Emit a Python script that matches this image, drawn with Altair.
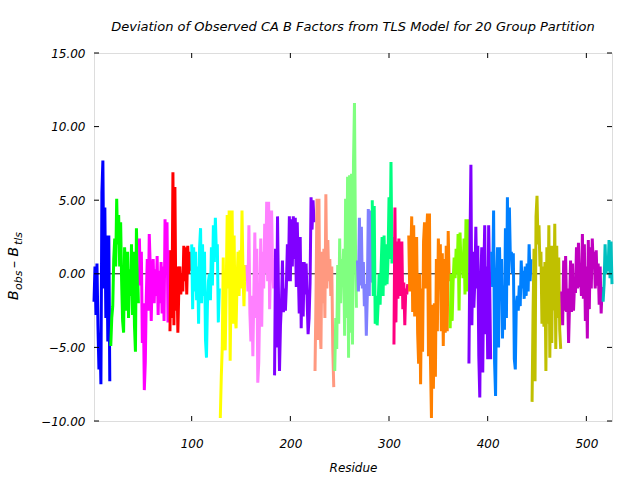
import altair as alt
import pandas as pd

# ---- data ----
group_start = [1, 18, 47, 78, 100, 129, 156, 184, 225, 245,
               268, 283, 305, 320, 362, 381, 404, 445, 475, 517]
group_color = ["#0000FF", "#00FF00", "#FF00FF", "#FF0000", "#00FFFF",
               "#FFFF00", "#FF80FF", "#8000FF", "#FF9980", "#80FF80",
               "#8080FF", "#00FF80", "#FF0080", "#FF8000", "#80FF00",
               "#8000FF", "#0080FF", "#C0C000", "#C000C0", "#00C0C0"]

g01 = [-1.9, 0.5, -2.8, 0.7, -3.5, -6.5, -4.0, -7.5, 5.5, 7.7, -1.0, 4.5, -3.0, 2.6, -4.6, 2.6, -7.3]
g02 = [-4.9, -3.0, -2.2, 1.0, 2.4, 0.5, 5.1, 2.0, 4.0, 0.5, 3.5, -0.5, -3.2, -4.0, 1.8, 0.0, -2.5, 1.5,
       -3.0, 0.3, -1.5, 2.0, -2.8, 1.5, -3.5, -5.3, 3.1, 0.5, -2.0]
g03 = [2.4, -0.8, 1.5, -4.7, -2.0, -7.9, -6.0, -1.5, 1.0, -2.5, 2.7, 0.5, -3.2, 0.0, 1.0, -2.0, 0.3,
       -1.5, 1.2, -2.8, 0.2, -2.0, 0.8, -2.7, 0.5, -3.2, 3.7, 0.0, 3.5, -3.3, 1.6]
g04 = [-3.9, 1.6, -3.0, 6.9, -3.5, 5.9, -2.5, 0.5, -4.0, -1.0, 0.5, -1.4, 0.0, -1.2, 1.9, -0.5, 1.8,
       -1.4, 1.9, 0.0, 1.5, 0.2]
g05 = [2.0, -2.4, 1.8, -1.2, 1.5, -1.8, 0.5, -3.4, 1.8, 3.1, -2.0, 2.0, -1.5, 1.5, -4.5, -5.7, -2.0,
       -0.5, 0.0, -1.8, 1.8, -0.8, 3.3, 0.8, 3.8, 1.5, 2.0, -3.3, -1.0]
g06 = [-9.8, -7.0, -5.0, 1.1, -4.5, -5.2, -1.0, 4.0, -1.0, 4.3, -5.9, -0.3, 4.3, -3.4, 2.6, -2.8,
       -3.7, -0.5, 1.5, -1.5, 1.6, -1.0, 4.3, 0.0, -2.2, 0.6, -0.5]
g07 = [0.6, -1.2, 3.3, -2.7, -4.6, -1.5, -5.6, -1.5, 2.8, -3.0, 1.7, -7.4, -6.0, -2.0, 2.4, -3.6, 1.5,
       -1.0, 3.4, 0.0, 4.9, -0.5, 4.9, -2.4, 1.0, 4.3, 0.5, -1.0]
g08 = [-6.9, 1.7, -5.0, 3.9, -1.5, -6.6, -3.5, -2.0, 0.9, -2.6, -1.0, -2.5, -0.8, 2.0, -0.5, 3.9, -0.5,
       3.7, 0.5, 3.9, 1.0, 3.8, -0.9, 3.5, 0.4, -2.7, 2.5, -3.7, 0.8, -2.9, 0.8, -1.4, 0.7, -1.8, -4.1,
       -3.0, -0.6, 5.2, 3.0, 5.0, 3.5]
g09 = [-6.6, -1.5, 5.1, -4.5, 5.1, -3.5, -5.1, 1.5, -2.0, 1.7, -3.0, 5.4, -1.0, 2.3, -0.5, 1.0, -1.5,
       0.5, -5.1, -7.7]
g10 = [-6.6, -3.0, -5.1, 0.6, -3.4, 2.4, -2.0, 1.0, -0.5, 1.7, -4.2, 5.1, -3.0, 6.6, -5.7, 6.7, -4.0,
       6.8, -4.8, 7.6, 11.6, 2.0, -2.3]
g11 = [0.9, -1.2, 3.8, -0.8, 3.2, -1.0, 0.8, -2.2, -0.7, -4.2, -1.5, 4.4, -1.5, 4.3, -0.6]
g12 = [5.0, -1.5, 4.6, -3.4, -1.5, -3.5, -2.0, 0.0, -2.1, 0.5, 2.5, -1.5, 2.6, -0.8, 2.0, -0.7, 1.0,
       5.2, 1.0, 7.6, 0.7, 2.5]
g13 = [-4.8, 4.5, -3.3, 2.2, -1.7, 2.4, -1.5, 1.0, 2.2, -2.4, -0.6, -3.5, -1.0, -1.4, -0.7]
g14 = [2.6, -1.2, 1.0, 3.9, -2.6, 3.3, -2.9, 1.5, 2.5, -4.0, -6.1, 0.0, -7.5, -1.0, -5.3, 2.2, 3.5,
       -1.0, 2.5, 4.1, -5.6, 4.1, -5.8, -9.8, -2.1, -7.8, -2.0, -7.0, 1.0, -3.9, 2.4, 0.1, 2.0, -3.9,
       1.4, -4.9, 1.0, -4.0, 1.9, -3.9, 2.9, -0.5]
g15 = [-3.7, 0.0, -3.2, -0.5, 1.1, -0.3, 1.7, 0.0, 2.7, -2.5, 2.8, 0.5, 0.8, -0.3, 2.4, -1.4, 3.7,
       -1.2, 3.7]
g16 = [-6.1, 1.7, 7.4, -3.5, 1.5, -2.3, -0.5, 3.2, -1.0, 1.9, -5.6, -8.4, -0.5, 1.8, -6.7, 0.0, 3.3,
       -4.1, 0.5, -5.8, 3.3, -0.5, -5.8]
g17 = [1.5, -0.9, 4.3, -6.0, -8.3, -0.8, 1.8, -5.0, 1.8, -1.8, 1.0, -4.4, -0.8, -3.8, 3.1, -3.0, 5.2,
       -0.8, 4.5, 1.0, 1.5, 0.0, 1.4, -5.8, -6.5, -2.2, -1.5, -2.5, -0.8, -2.2, 0.9, -1.0, 0.2, -1.7,
       0.5, -1.5, 0.7, -1.2, 2.0, -0.5, 1.0]
g18 = [-8.7, -2.5, 1.7, -7.3, 3.9, 5.3, 2.0, 3.3, 0.5, 1.5, -3.4, 0.5, -3.6, 0.8, -6.6, 1.8, -3.4, 3.3,
       -5.7, 1.9, -4.7, 1.9, -2.5, 3.4, -5.1, 1.9, -3.0, 1.1, -3.8, -5.1]
g19 = [-1.2, -3.5, 0.9, -2.5, 1.2, -2.6, -1.0, -4.7, -2.0, 0.9, -2.6, 0.7, -2.5, -0.8, -1.3, 1.8, -1.0,
       2.1, -0.9, 0.2, -1.5, 2.7, -1.7, 2.0, -3.2, 0.5, -4.4, 2.3, -2.4, 1.8, -1.0, 2.4, 0.6, 1.5, -1.0,
       1.6, -0.8, 0.7, -2.1, 0.5, -2.7, -0.9]
g20 = [-1.9, -0.7, 2.0, 0.0, 1.0, 0.2, 2.3, -0.3, 2.2, -0.7]

groups = [g01, g02, g03, g04, g05, g06, g07, g08, g09, g10,
          g11, g12, g13, g14, g15, g16, g17, g18, g19, g20]

y_ticks = [-10, -5, 0, 5, 10, 15]
x_ticks = [100, 200, 300, 400, 500]

# ---- build table ----
rows = []
for gi, (start, vals) in enumerate(zip(group_start, groups)):
    for i, v in enumerate(vals):
        rows.append({"residue": start + i, "dev": v, "group": f"g{gi + 1:02d}"})
df = pd.DataFrame(rows)
group_ids = [f"g{i + 1:02d}" for i in range(len(groups))]

W, H = 518, 368
FONT = "DejaVu Sans"

xscale = alt.Scale(domain=[1, 526], nice=False, zero=False)
yscale = alt.Scale(domain=[-10, 15], nice=False, zero=False)

xaxis = alt.Axis(values=x_ticks, format="d", ticks=False, domain=False, grid=False,
                 labelFont=FONT, labelFontStyle="italic", labelFontSize=12, labelColor="black",
                 labelPadding=17, title="Residue", titleFont=FONT, titleFontStyle="italic",
                 titleFontWeight="normal", titleFontSize=12, titleColor="black", titlePadding=13)
yaxis = alt.Axis(values=y_ticks, format=".2f", ticks=False, domain=False, grid=False,
                 labelFont=FONT, labelFontStyle="italic", labelFontSize=12, labelColor="black",
                 labelPadding=9, title=None)

zero = alt.Chart(pd.DataFrame({"y": [0]})).mark_rule(color="black", strokeWidth=1).encode(
    y=alt.Y("y:Q", scale=yscale, axis=yaxis))

lines = alt.Chart(df).mark_line(strokeWidth=3, strokeJoin="bevel").encode(
    x=alt.X("residue:Q", scale=xscale, axis=xaxis),
    y=alt.Y("dev:Q", scale=yscale, axis=yaxis),
    color=alt.Color("group:N", scale=alt.Scale(domain=group_ids, range=group_color), legend=None),
    detail="group:N",
    order="residue:Q",
)

ytk = pd.DataFrame({"v": y_ticks})
xtk = pd.DataFrame({"v": x_ticks})
tl = 5
ytick_l = alt.Chart(ytk).mark_rule(color="black").encode(
    y=alt.Y("v:Q", scale=yscale), x=alt.value(0), x2=alt.value(tl))
ytick_r = alt.Chart(ytk).mark_rule(color="black").encode(
    y=alt.Y("v:Q", scale=yscale), x=alt.value(W), x2=alt.value(W - tl))
xtick_b = alt.Chart(xtk).mark_rule(color="black").encode(
    x=alt.X("v:Q", scale=xscale), y=alt.value(H), y2=alt.value(H - tl))
xtick_t = alt.Chart(xtk).mark_rule(color="black").encode(
    x=alt.X("v:Q", scale=xscale), y=alt.value(0), y2=alt.value(tl))

# y-axis title with subscripts:  B_obs - B_tls
pieces = [("B", 14, -76, 247), ("obs", 11, -72, 237), ("\u2013 B", 14, -76, 215), ("tls", 11, -72, 192)]
ytitle_layers = []
for txt, fs, px, py in pieces:
    ytitle_layers.append(
        alt.Chart(pd.DataFrame({"t": [txt]})).mark_text(
            angle=270, align="left", baseline="alphabetic", font=FONT, fontStyle="italic",
            fontSize=fs, color="black").encode(text="t:N", x=alt.value(px), y=alt.value(py)))

chart = alt.layer(zero, lines, ytick_l, ytick_r, xtick_b, xtick_t, *ytitle_layers).properties(
    width=W, height=H,
    title=alt.TitleParams("Deviation of Observed CA B Factors from TLS Model for 20 Group Partition",
                          font=FONT, fontStyle="italic", fontWeight="normal", fontSize=13,
                          color="black", anchor="middle", offset=13),
    autosize=alt.AutoSizeParams(type="none"),
    padding={"left": 94, "top": 53, "right": 28, "bottom": 59},
).configure_view(stroke="black", strokeWidth=1).configure(background="white")

chart.save("out.html", embed_options={"renderer": "svg", "actions": False})
